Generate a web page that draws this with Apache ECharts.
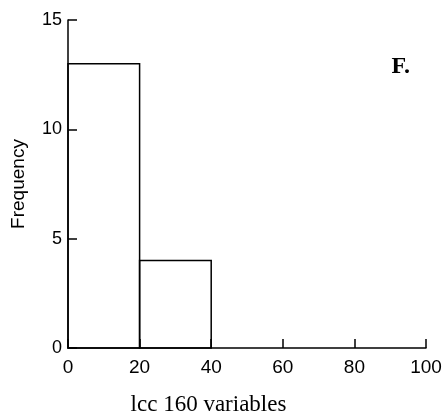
<!DOCTYPE html>
<html>
<head>
<meta charset="utf-8">
<script src="https://cdn.jsdelivr.net/npm/echarts@6/dist/echarts.min.js"></script>
<style>html,body{margin:0;padding:0;background:#fff;}#c{width:444px;height:415px;}</style>
</head>
<body>
<div id="c"></div>
<script>
const binStarts = [0, 20];
const binEnds = [20, 40];
const frequencies = [13, 4];
const xTicks = [0, 20, 40, 60, 80, 100];
const yTicks = [0, 5, 10, 15];
const panelLabel = 'F.';
const xTitle = 'lcc 160 variables';
const yTitle = 'Frequency';

const data = binStarts.map((s, i) => [s, binEnds[i], frequencies[i]]);
const chart = echarts.init(document.getElementById('c'), null, {renderer: 'canvas'});
chart.setOption({
  backgroundColor: '#fff',
  animation: false,
  grid: {left: 68, right: 18, top: 20, bottom: 67, containLabel: false, outerBoundsMode: 'none'},
  xAxis: {
    type: 'value', min: xTicks[0], max: xTicks[xTicks.length - 1], interval: 20,
    splitLine: {show: false},
    axisLine: {lineStyle: {color: '#000', width: 1.5}},
    axisTick: {inside: true, length: 9, lineStyle: {color: '#000', width: 1.5}},
    axisLabel: {color: '#000', fontFamily: 'Liberation Sans', fontSize: 19, margin: 10},
    name: xTitle, nameLocation: 'middle', nameGap: 45,
    nameTextStyle: {color: '#000', fontFamily: 'Liberation Serif', fontSize: 23, padding: [0, 77, 0, 0]}
  },
  yAxis: {
    type: 'value', min: yTicks[0], max: yTicks[yTicks.length - 1], interval: 5,
    splitLine: {show: false},
    axisLine: {show: true, lineStyle: {color: '#000', width: 1.5}},
    axisTick: {show: true, inside: true, length: 9, lineStyle: {color: '#000', width: 1.5}},
    axisLabel: {color: '#000', fontFamily: 'Liberation Sans', fontSize: 18, margin: 6},
    name: yTitle, nameLocation: 'middle', nameGap: 40,
    nameTextStyle: {color: '#000', fontFamily: 'Liberation Sans', fontSize: 19}
  },
  title: {
    text: panelLabel, right: 29, top: 50,
    textStyle: {color: '#000', fontFamily: 'Liberation Serif', fontSize: 24, fontWeight: 'bold'}
  },
  series: [{
    type: 'custom',
    data: data,
    encode: {x: [0, 1], y: 2},
    renderItem: function (params, api) {
      const p0 = api.coord([api.value(0), api.value(2)]);
      const p1 = api.coord([api.value(1), 0]);
      return {
        type: 'rect',
        shape: {x: p0[0], y: p0[1], width: p1[0] - p0[0], height: p1[1] - p0[1]},
        style: {fill: 'none', stroke: '#000', lineWidth: 1.5}
      };
    }
  }]
});
</script>
</body>
</html>
